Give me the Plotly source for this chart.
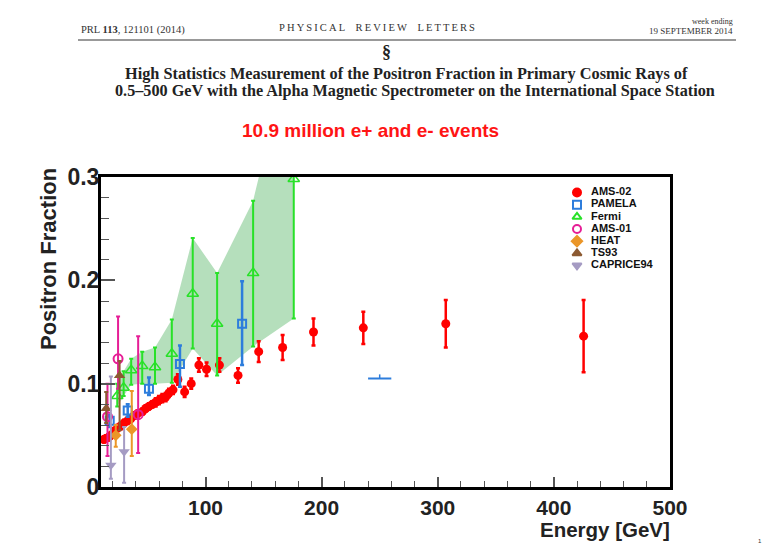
import plotly.graph_objects as go

# ---------------- data ----------------
ams02_E = [12.5, 14.2, 16.3, 18.5, 21.3, 24.2, 27.0, 29.9, 32.8, 35.6, 38.5, 41.4, 45.7, 48.5,
           51.3, 54.2, 57.1, 59.9, 62.8, 65.7, 68.5, 72.0, 76.2, 82.0, 87.7, 94.3, 100.9,
           112.0, 128.0, 145.8, 166.4, 193.0, 235.9, 306.9, 425.6]
ams02_v = [0.046, 0.047, 0.048, 0.050, 0.054, 0.057, 0.059, 0.062, 0.064, 0.066, 0.069, 0.071,
           0.073, 0.076, 0.078, 0.080, 0.082, 0.084, 0.086, 0.087, 0.091, 0.094, 0.104, 0.092,
           0.100, 0.118, 0.114, 0.118, 0.108, 0.131, 0.135, 0.150, 0.154, 0.158, 0.146]
ams02_err = [0.003, 0.003, 0.003, 0.003, 0.003, 0.003, 0.003, 0.003, 0.003, 0.003, 0.003, 0.003,
             0.003, 0.003, 0.003, 0.003, 0.004, 0.004, 0.004, 0.004, 0.004, 0.004, 0.005, 0.005,
             0.005, 0.0065, 0.0065, 0.0065, 0.007, 0.010, 0.012, 0.013, 0.0155, 0.023, 0.035]

pamela_E = [17.5, 33.0, 51.3, 78.0, 131.5]
pamela_v = [0.064, 0.074, 0.095, 0.119, 0.158]
pamela_up = [0.006, 0.006, 0.011, 0.018, 0.041]
pamela_dn = [0.006, 0.006, 0.006, 0.022, 0.040]
pamela_hl_E = [250.0]
pamela_hl_v = [0.105]
pamela_hl_xerr = [10.0]
pamela_hl_up = [0.004]

fermi_E = [24.0, 29.5, 36.0, 45.5, 56.5, 71.0, 89.0, 110.0, 141.0, 176.0]
fermi_v = [0.088, 0.096, 0.113, 0.117, 0.116, 0.129, 0.187, 0.158, 0.207, 0.298]
fermi_lo = [0.078, 0.088, 0.099, 0.100, 0.100, 0.101, 0.134, 0.108, 0.136, 0.163]
fermi_hi = [0.100, 0.112, 0.124, 0.131, 0.135, 0.162, 0.241, 0.207, 0.277, 0.440]

ams01_E = [15.6, 24.7, 42.0]
ams01_v = [0.068, 0.124, 0.070]
ams01_lo = [0.030, 0.095, 0.033]
ams01_hi = [0.100, 0.165, 0.146]

heat_E = [22.7, 36.5]
heat_v = [0.050, 0.056]
heat_lo = [0.039, 0.030]
heat_hi = [0.060, 0.093]

ts93_E = [14.5, 26.0]
ts93_v = [0.076, 0.108]
ts93_lo = [0.062, 0.055]
ts93_hi = [0.092, 0.122]

caprice_E = [18.5, 29.9]
caprice_v = [0.021, 0.034]
caprice_lo = [0.008, 0.004]
caprice_hi = [0.107, 0.058]

x_ticks = [100, 200, 300, 400, 500]
x_ticktext = ["100", "200", "300", "400", "500"]
y_ticks = [0, 0.1, 0.2, 0.3]
y_ticktext = ["0", "0.1", "0.2", "0.3"]

legend_names = ["AMS-02", "PAMELA", "Fermi", "AMS-01", "HEAT", "TS93", "CAPRICE94"]

# ---------------- styles ----------------
C_AMS02 = "rgb(255,0,0)"
C_PAM = "rgb(45,125,220)"
C_FERMI = "rgb(40,225,40)"
C_AMS01 = "rgb(230,30,150)"
C_HEAT = "rgb(235,150,40)"
C_TS93 = "rgb(140,90,50)"
C_CAP = "rgb(165,155,195)"
C_BAND = "rgba(60,170,80,0.38)"

legend_colors = [C_AMS02, C_PAM, C_FERMI, C_AMS01, C_HEAT, C_TS93, C_CAP]
legend_symbols = ["circle", "square-open", "triangle-up-open", "circle-open",
                  "diamond", "triangle-up", "triangle-down"]

fig = go.Figure()

# Fermi band (envelope of Fermi error bars)
fig.add_trace(go.Scatter(
    x=fermi_E + fermi_E[::-1], y=fermi_hi + fermi_lo[::-1],
    fill="toself", fillcolor=C_BAND, line=dict(width=0), mode="lines",
    hoverinfo="skip", showlegend=False))


def asym(v, lo, hi):
    return [h - a for a, h in zip(v, hi)], [a - l for a, l in zip(v, lo)]


fig.add_trace(go.Scatter(
    x=ams02_E, y=ams02_v, mode="markers", name="AMS-02",
    marker=dict(symbol="circle", size=9, color=C_AMS02),
    error_y=dict(type="data", array=ams02_err, color=C_AMS02, thickness=2.5, width=2)))

fig.add_trace(go.Scatter(
    x=pamela_E, y=pamela_v, mode="markers", name="PAMELA",
    marker=dict(symbol="square-open", size=8, color=C_PAM, line=dict(width=2)),
    error_y=dict(type="data", symmetric=False, array=pamela_up, arrayminus=pamela_dn,
                 color=C_PAM, thickness=2.5, width=2)))
fig.add_trace(go.Scatter(
    x=pamela_hl_E, y=pamela_hl_v, mode="markers", name="PAMELA",
    marker=dict(size=1, color=C_PAM),
    error_x=dict(type="data", array=pamela_hl_xerr, color=C_PAM, thickness=2, width=0),
    error_y=dict(type="data", symmetric=False, array=pamela_hl_up, arrayminus=[0],
                 color=C_PAM, thickness=1.5, width=0)))

fu, fd = asym(fermi_v, fermi_lo, fermi_hi)
fig.add_trace(go.Scatter(
    x=fermi_E, y=fermi_v, mode="markers", name="Fermi",
    marker=dict(symbol="triangle-up-open", size=10, color=C_FERMI, line=dict(width=1.5)),
    error_y=dict(type="data", symmetric=False, array=fu, arrayminus=fd,
                 color=C_FERMI, thickness=2, width=2)))

au, ad = asym(ams01_v, ams01_lo, ams01_hi)
fig.add_trace(go.Scatter(
    x=ams01_E, y=ams01_v, mode="markers", name="AMS-01",
    marker=dict(symbol="circle-open", size=9, color=C_AMS01, line=dict(width=2)),
    error_y=dict(type="data", symmetric=False, array=au, arrayminus=ad,
                 color=C_AMS01, thickness=2, width=2)))

hu, hd = asym(heat_v, heat_lo, heat_hi)
fig.add_trace(go.Scatter(
    x=heat_E, y=heat_v, mode="markers", name="HEAT",
    marker=dict(symbol="diamond", size=9, color=C_HEAT),
    error_y=dict(type="data", symmetric=False, array=hu, arrayminus=hd,
                 color=C_HEAT, thickness=2, width=2)))

tu, td = asym(ts93_v, ts93_lo, ts93_hi)
fig.add_trace(go.Scatter(
    x=ts93_E, y=ts93_v, mode="markers", name="TS93",
    marker=dict(symbol="triangle-up", size=10, color=C_TS93),
    error_y=dict(type="data", symmetric=False, array=tu, arrayminus=td,
                 color=C_TS93, thickness=2, width=2)))

cu, cd = asym(caprice_v, caprice_lo, caprice_hi)
fig.add_trace(go.Scatter(
    x=caprice_E, y=caprice_v, mode="markers", name="CAPRICE94",
    marker=dict(symbol="triangle-down", size=10, color=C_CAP),
    error_y=dict(type="data", symmetric=False, array=cu, arrayminus=cd,
                 color=C_CAP, thickness=2, width=2)))

# ---------------- layout helpers ----------------
L, R, T, B = 101, 95, 177, 62
W, H = 765, 549
PW, PH = W - L - R, H - T - B


def px(xp):
    return (xp - L) / PW


def py(yp):
    return (H - B - yp) / PH


SANS = "Liberation Sans, Arial, sans-serif"
SERIF = "Liberation Serif, Times New Roman, serif"

# ---------------- compact legend on an overlay axis ----------------
leg_idx = list(range(len(legend_names)))
fig.add_trace(go.Scatter(
    x=[17] * len(legend_names), y=leg_idx, xaxis="x2", yaxis="y2", mode="markers",
    marker=dict(symbol=legend_symbols, color=legend_colors, size=8,
                line=dict(width=2, color=legend_colors)),
    showlegend=False, hoverinfo="skip"))
fig.add_trace(go.Scatter(
    x=[31] * len(legend_names), y=leg_idx, xaxis="x2", yaxis="y2", mode="text",
    text=legend_names, textposition="middle right",
    textfont=dict(family=SANS, size=11, color="#111", weight="bold"),
    showlegend=False, hoverinfo="skip"))

fig.update_layout(
    width=W, height=H, margin=dict(l=L, r=R, t=T, b=B),
    paper_bgcolor="white", plot_bgcolor="white",
    showlegend=False,
    xaxis=dict(range=[10, 500], tickvals=x_ticks, ticktext=x_ticktext,
               ticks="inside", ticklen=10, tickwidth=1.5, tickcolor="#555",
               minor=dict(dtick=20, tick0=0, ticks="inside", ticklen=6, tickwidth=1.2, tickcolor="#555"),
               showline=True, linewidth=3, linecolor="black", mirror=True,
               showgrid=False, zeroline=False,
               tickfont=dict(family=SANS, size=21, color="#222", weight="bold")),
    yaxis=dict(range=[0, 0.3], tickvals=y_ticks, ticktext=y_ticktext,
               ticks="inside", ticklen=14, tickwidth=1.5, tickcolor="#555",
               minor=dict(dtick=0.02, tick0=0, ticks="inside", ticklen=8, tickwidth=1.2, tickcolor="#555"),
               showline=True, linewidth=3, linecolor="black", mirror=True,
               showgrid=False, zeroline=False, ticklabelstandoff=-6,
               tickfont=dict(family=SANS, size=23, color="#222", weight="bold")),
    xaxis2=dict(domain=[px(560), 1.0], range=[0, 110], anchor="y2", visible=False, fixedrange=True),
    yaxis2=dict(domain=[py(271.5), py(186.5)], range=[6.5, -0.5], anchor="x2", visible=False,
                fixedrange=True),
)

ann = []


def add_text(text, x, y, size, family, xanchor="center", color="black", bold=False, angle=0):
    ann.append(dict(text=text, x=px(x), y=py(y), xref="paper", yref="paper",
                    xanchor=xanchor, yanchor="middle", showarrow=False, textangle=angle,
                    font=dict(family=family, size=size, color=color,
                              weight="bold" if bold else "normal")))


add_text("PRL <b>113</b>, 121101 (2014)", 79, 30, 10.5, SERIF, xanchor="left", color="#333")
add_text("\u2009".join("PHYSICAL") + "\u2003" + "\u2009".join("REVIEW") + "\u2003" + "\u2009".join("LETTERS"),
         377, 28, 10.5, SERIF, color="#333")
add_text("week ending", 735, 21, 8, SERIF, xanchor="right", color="#333")
add_text("19 SEPTEMBER 2014", 735, 31, 9, SERIF, xanchor="right", color="#333")
add_text("§", 386, 52, 18, SERIF, bold=True, color="#222")
add_text("High Statistics Measurement of the Positron Fraction in Primary Cosmic Rays of",
         406, 73, 16.3, SERIF, bold=True, color="#222")
add_text("0.5–500 GeV with the Alpha Magnetic Spectrometer on the International Space Station",
         415, 91, 16.2, SERIF, bold=True, color="#222")
add_text("10.9 million e+ and e- events", 370, 130, 19, SANS, bold=True, color="rgb(255,20,20)")
add_text("Positron Fraction", 48, 259, 22, SANS, bold=True, color="#222", angle=-90)
add_text("Energy [GeV]", 672, 529, 20.5, SANS, xanchor="right", bold=True, color="#222")
add_text("1", 760, 541, 6, SANS, color="#333")

fig.update_layout(annotations=ann)
fig.add_shape(type="line", xref="paper", yref="paper", x0=px(78), x1=px(736), y0=py(40), y1=py(40),
              line=dict(color="#777", width=1.5))

fig.write_html("out.html")
